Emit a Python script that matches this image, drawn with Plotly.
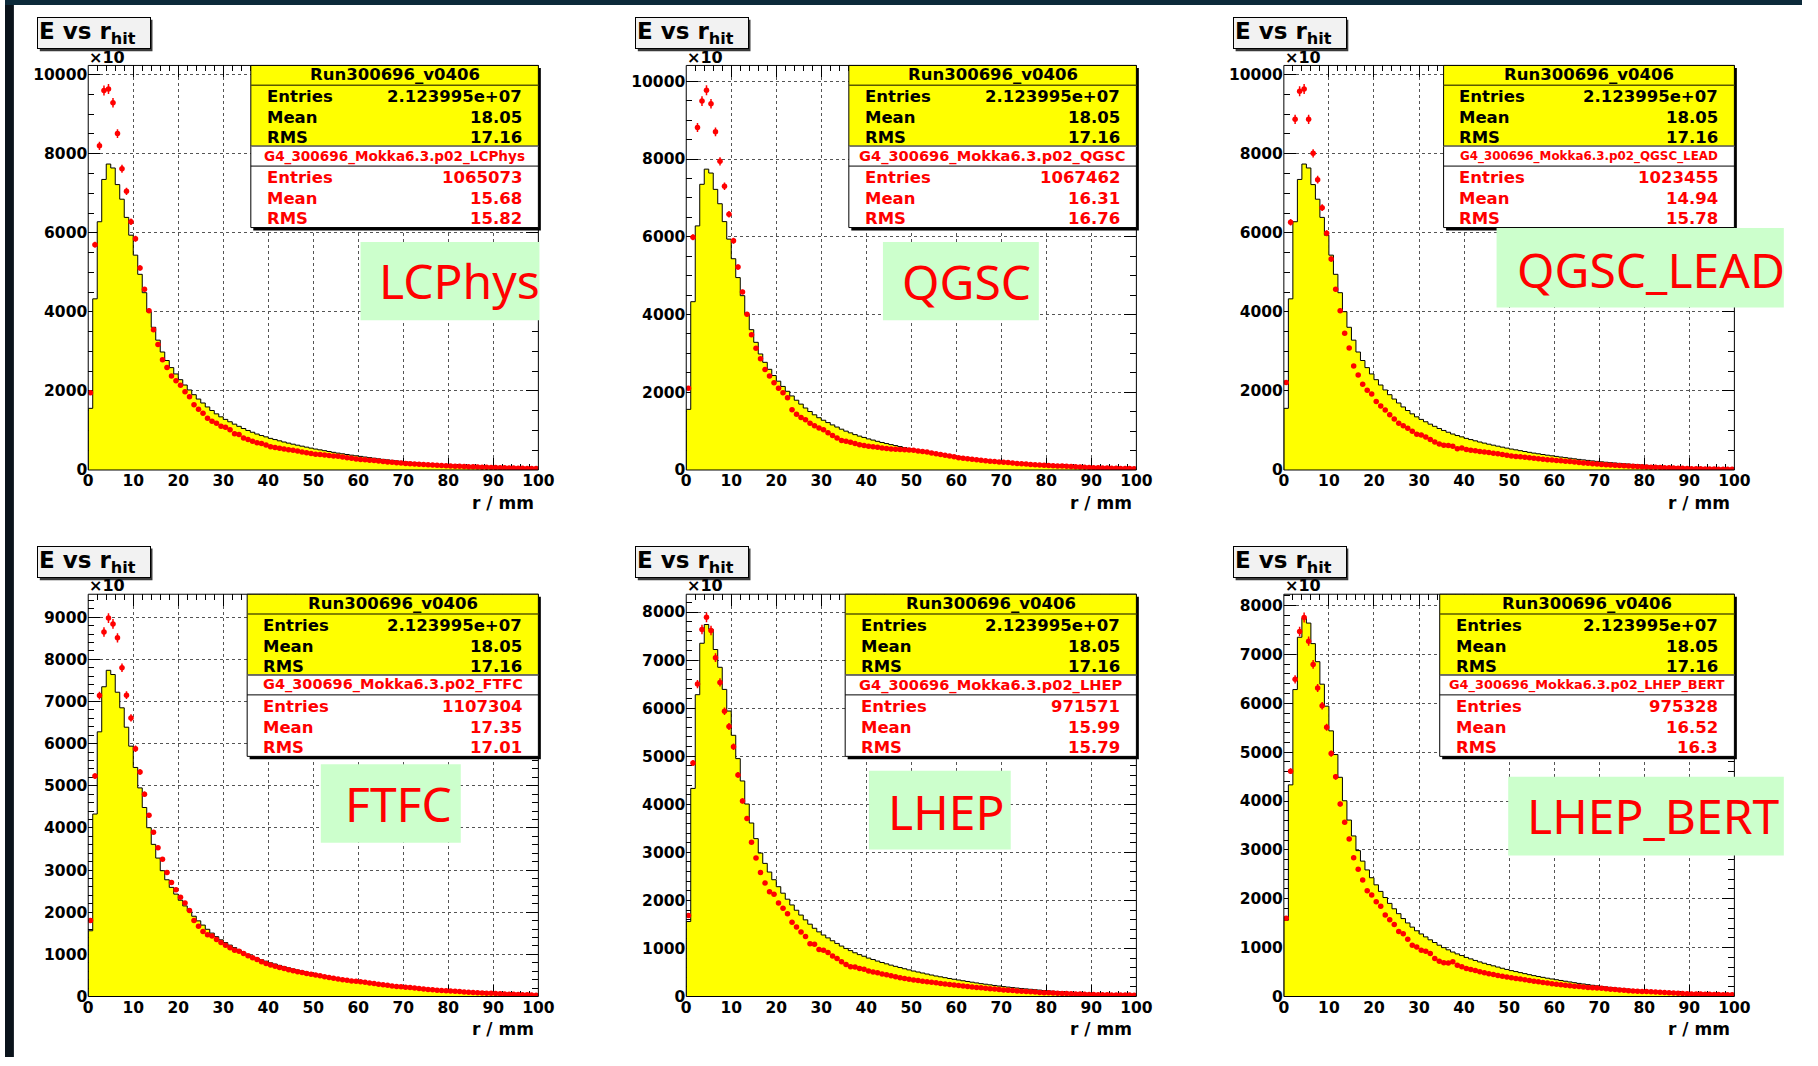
import plotly.graph_objects as go

W, H = 1818, 1066

# ---------------- data (values in units of x10) ----------------
r_edges = list(range(0, 101))          # bin edges, r / mm
r_centers = [i + 0.5 for i in range(100)]

data_hist = [
    1560, 4330, 6280, 7350, 7740, 7640, 7220, 6850, 6390, 5940,
    5435, 4950, 4485, 4005, 3610, 3285, 2985, 2770, 2590, 2430,
    2285, 2150, 2025, 1905, 1795, 1695, 1595, 1505, 1420, 1345,
    1280, 1220, 1160, 1105, 1050, 1000, 955, 910, 872, 838,
    800, 770, 738, 708, 680, 653, 628, 603, 578, 554,
    530, 510, 489, 468, 447, 427, 410, 392, 375, 359,
    344, 328, 313, 298, 283, 268, 256, 243, 230, 218,
    206, 196, 186, 176, 167, 158, 150, 141, 133, 125,
    117, 110, 103, 96, 90, 83, 78, 72, 66, 61,
    55, 51, 47, 43, 38, 34, 31, 28, 24, 21]

sim_lcphys = [
    1955, 5700, 8200, 9600, 9640, 9290, 8510, 7620, 7050, 6280,
    5850, 5110, 4570, 4030, 3550, 3175, 2790, 2590, 2375, 2255,
    2145, 1980, 1855, 1650, 1535, 1435, 1310, 1230, 1185, 1105,
    1080, 1020, 920, 895, 810, 770, 728, 688, 668, 635,
    585, 568, 548, 530, 515, 500, 478, 455, 435, 418,
    400, 392, 380, 365, 355, 345, 328, 310, 295, 280,
    268, 258, 248, 238, 226, 215, 205, 195, 185, 175,
    165, 158, 150, 143, 136, 130, 124, 117, 111, 105,
    100, 96, 92, 88, 84, 80, 76, 72, 68, 64,
    60, 57, 54, 51, 48, 45, 42, 40, 37, 35]

sim_qgsc = [
    2100, 5990, 8810, 9490, 9770, 9420, 8700, 7940, 7300, 6580,
    5900, 5220, 4580, 4010, 3480, 3135, 2860, 2585, 2420, 2245,
    2100, 1990, 1860, 1550, 1435, 1350, 1290, 1205, 1140, 1080,
    1035, 955, 885, 825, 760, 740, 715, 680, 648, 630,
    612, 598, 582, 566, 555, 543, 534, 525, 518, 512,
    505, 490, 475, 460, 440, 420, 400, 380, 360, 340,
    318, 303, 290, 276, 262, 250, 240, 228, 216, 208,
    200, 190, 180, 170, 160, 152, 144, 136, 128, 122,
    118, 112, 106, 100, 94, 88, 82, 76, 70, 65,
    60, 56, 52, 49, 46, 43, 40, 38, 36, 34]

sim_qgsc_lead = [
    2215, 6265, 8870, 9580, 9640, 8870, 8010, 7345, 6635, 5990,
    5340, 4570, 4030, 3460, 3085, 2630, 2400, 2170, 2020, 1920,
    1730, 1620, 1520, 1395, 1290, 1185, 1120, 1055, 978, 902,
    885, 835, 770, 710, 660, 628, 618, 602, 540, 558,
    520, 502, 484, 470, 455, 440, 425, 410, 390, 370,
    352, 342, 332, 320, 308, 298, 285, 272, 260, 250,
    242, 232, 222, 212, 200, 190, 180, 170, 160, 150,
    142, 135, 128, 121, 114, 108, 100, 94, 88, 81,
    75, 71, 67, 63, 59, 55, 51, 47, 43, 38,
    34, 32, 30, 28, 26, 24, 22, 20, 18, 17]

sim_ftfc = [
    1805, 5230, 7140, 8650, 8980, 8840, 8510, 7800, 7150, 6610,
    5880, 5330, 4800, 4300, 3900, 3530, 3255, 2940, 2705, 2535,
    2355, 2220, 2040, 1805, 1670, 1545, 1465, 1435, 1355, 1280,
    1215, 1155, 1100, 1075, 1020, 965, 918, 878, 825, 785,
    745, 720, 690, 665, 635, 610, 590, 568, 548, 530,
    512, 490, 470, 450, 432, 416, 400, 385, 370, 360,
    352, 338, 322, 306, 292, 278, 265, 252, 240, 230,
    222, 212, 200, 188, 176, 166, 158, 150, 142, 136,
    133, 125, 118, 110, 104, 98, 92, 86, 80, 75,
    71, 66, 60, 56, 52, 48, 43, 39, 35, 31]

sim_lhep = [
    1685, 4860, 6500, 7635, 7890, 7615, 7050, 6535, 5935, 5620,
    5195, 4610, 4070, 3705, 3210, 2880, 2580, 2360, 2180, 2130,
    1945, 1835, 1720, 1545, 1445, 1340, 1250, 1100, 1085, 978,
    962, 915, 845, 790, 722, 668, 620, 612, 585, 565,
    530, 512, 492, 470, 452, 432, 412, 392, 375, 360,
    345, 332, 320, 308, 296, 284, 272, 260, 248, 238,
    228, 218, 208, 198, 188, 180, 170, 162, 154, 146,
    138, 130, 124, 117, 110, 104, 98, 92, 86, 80,
    76, 72, 68, 64, 61, 57, 54, 50, 47, 44,
    41, 39, 37, 36, 34, 33, 32, 30, 29, 28]

sim_lhep_bert = [
    1600, 4610, 6490, 7470, 7755, 7270, 6795, 6310, 5950, 5510,
    4970, 4495, 3940, 3565, 3225, 2840, 2605, 2385, 2165, 2075,
    1940, 1845, 1670, 1570, 1475, 1330, 1285, 1170, 1050, 1015,
    948, 925, 880, 780, 722, 690, 688, 710, 642, 610,
    575, 552, 530, 508, 488, 468, 448, 430, 415, 400,
    385, 370, 356, 342, 328, 314, 300, 287, 275, 262,
    250, 240, 230, 222, 212, 204, 195, 186, 178, 172,
    168, 160, 150, 142, 134, 127, 120, 114, 108, 104,
    101, 96, 91, 86, 81, 77, 72, 67, 62, 58,
    54, 52, 49, 47, 44, 42, 40, 38, 36, 34]

models = ["LCPhys", "QGSC", "QGSC_LEAD", "FTFC", "LHEP", "LHEP_BERT"]
sim_series = [sim_lcphys, sim_qgsc, sim_qgsc_lead, sim_ftfc, sim_lhep, sim_lhep_bert]
sim_entries = ["1065073", "1067462", "1023455", "1107304", "971571", "975328"]
sim_mean = ["15.68", "16.31", "14.94", "17.35", "15.99", "16.52"]
sim_rms = ["15.82", "16.76", "15.78", "17.01", "15.79", "16.3"]
data_name = "Run300696_v0406"
data_entries = "2.123995e+07"
data_mean = "18.05"
data_rms = "17.16"
x_ticks = list(range(0, 101, 10))

# ---------------- layout (pixels of the 1818x1066 page) ----------------
def X(px):
    return px / W

def Y(py):
    return 1 - py / H

panels = [
    dict(L=84.2, R=539.6, T=66.0, B=474.0, ymax=10234, dt=2000, mdt=500, sL=248.7,
         g=(359.7, 244, 540.7, 323), gy=283, name_size=13.6, tb=32.7),
    dict(L=689.2, R=1144.6, T=66.0, B=474.0, ymax=10408, dt=2000, mdt=500, sL=853.7,
         g=(888.2, 244, 1045.9, 323), gy=284, name_size=14.6, tb=637.7),
    dict(L=1293.8, R=1749.6, T=66.0, B=474.0, ymax=10234, dt=2000, mdt=500, sL=1455.4,
         g=(1509, 230, 1799.6, 310), gy=272, name_size=11.9, tb=1242.5),
    dict(L=84.2, R=539.6, T=599.3, B=1005.0, ymax=9545, dt=1000, mdt=200, sL=245.0,
         g=(319.5, 770.7, 461.1, 850), gy=810, name_size=14.5, tb=32.7),
    dict(L=689.2, R=1144.6, T=599.3, B=1005.0, ymax=8370, dt=1000, mdt=200, sL=850.0,
         g=(874, 777.3, 1017.5, 856.7), gy=818, name_size=14.6, tb=637.7),
    dict(L=1293.8, R=1749.6, T=599.3, B=1005.0, ymax=8230, dt=1000, mdt=200, sL=1451.5,
         g=(1520.8, 783.3, 1799.6, 862.7), gy=822, name_size=12.9, tb=1242.5),
]

FONT = "DejaVu Sans"
fig = go.Figure()
shapes = []
annotations = []

def rect(x0, y0, x1, y1, fill, line="black", lw=1):
    shapes.append(dict(type="rect", xref="paper", yref="paper",
                       x0=X(x0), x1=X(x1), y0=Y(y1), y1=Y(y0),
                       fillcolor=fill, line=dict(color=line, width=lw), layer="above"))

def hline(x0, x1, y, color="black", lw=1):
    shapes.append(dict(type="line", xref="paper", yref="paper",
                       x0=X(x0), x1=X(x1), y0=Y(y), y1=Y(y),
                       line=dict(color=color, width=lw), layer="above"))

def text(px, py, s, size, color="black", xanchor="center", family=FONT, bold=True):
    annotations.append(dict(xref="paper", yref="paper", x=X(px), y=Y(py), text=s,
                            showarrow=False, xanchor=xanchor, yanchor="middle",
                            font=dict(family=family, size=size, color=color,
                                      weight="bold" if bold else "normal")))

for i, p in enumerate(panels):
    k = i + 1
    xa = "x" if k == 1 else f"x{k}"
    ya = "y" if k == 1 else f"y{k}"

    # yellow data histogram (step outline, filled)
    hx = [r_edges[0]] + r_edges + [r_edges[-1]]
    hy = [0] + data_hist + [data_hist[-1], 0]
    fig.add_trace(go.Scatter(x=hx, y=hy, mode="lines", line=dict(color="black", width=1, shape="hv"),
                             fill="tozeroy", fillcolor="#ffff00", xaxis=xa, yaxis=ya,
                             hoverinfo="skip", showlegend=False))
    # red simulation points
    fig.add_trace(go.Scatter(x=r_centers, y=sim_series[i], mode="markers",
                             marker=dict(color="#ff0000", size=5.5),
                             error_y=dict(type="percent", value=1.3, color="#ff0000", thickness=1.5, width=0),
                             error_x=dict(type="constant", value=0.5, color="#ff0000", thickness=1.5, width=0),
                             xaxis=xa, yaxis=ya, showlegend=False))

    axis_common = dict(showline=False, zeroline=False, ticks="inside", mirror="ticks",
                       tickcolor="black", tickwidth=1, showgrid=True, gridcolor="#555555",
                       griddash="dot", gridwidth=1, layer="below traces",
                       tickfont=dict(family=FONT, size=15.5, color="black", weight="bold"))
    fig.layout[f"xaxis{k}" if k > 1 else "xaxis"] = dict(
        domain=[X(p["L"]), X(p["R"])], anchor=ya, range=[0, 100],
        tickmode="array", tickvals=x_ticks, ticklen=12,
        minor=dict(dtick=2, ticks="inside", ticklen=6, tickcolor="black", showgrid=False),
        **axis_common)
    fig.layout[f"yaxis{k}" if k > 1 else "yaxis"] = dict(
        domain=[Y(p["B"]), Y(p["T"])], anchor=xa, range=[0, p["ymax"]],
        dtick=p["dt"], tick0=0, ticklen=12, tickformat="d",
        minor=dict(dtick=p["mdt"], ticks="inside", ticklen=6, tickcolor="black", showgrid=False),
        **axis_common)

    # frame
    rect(p["L"], p["T"], p["R"], p["B"], "rgba(0,0,0,0)", "black", 1)

    # axis title and exponent
    text(p["R"] - 2.5, p["B"] + 33, "r / mm", 17, xanchor="right")
    text(p["L"] - 1, p["T"] - 8.5, "×10", 16, xanchor="left")

    # histogram title box (with drop shadow)
    tT = p["T"] - 48.7
    tL = p["tb"]
    tR = tL + 114
    tB = tT + 32
    rect(tL + 2.5, tT + 2.5, tR + 2.5, tB + 2.5, "#3a3a3a", "#3a3a3a", 0)
    annotations.append(dict(xref="paper", yref="paper", x=X(tL), y=Y(tT), xanchor="left", yanchor="top",
                            text="E vs r<sub>hit</sub>", showarrow=False, align="left", valign="middle",
                            width=110, height=28, bgcolor="#f2f2f2", bordercolor="black",
                            borderwidth=1, borderpad=1,
                            font=dict(family=FONT, size=23, color="black", weight="bold")))

    # statistics boxes
    sL, sR, sT = p["sL"], p["R"], p["T"]
    rect(sL + 2.5, sT + 2.5, sR + 2.5, sT + 164 + 2.5, "black", "black", 0)
    rect(sL, sT, sR, sT + 81.5, "#ffff00", "black", 1)
    rect(sL, sT + 81.5, sR, sT + 163.5, "white", "black", 1)
    hline(sL, sR, sT + 20, "#5a5a00", 1.5)
    hline(sL, sR, sT + 81.5, "#777777", 1.5)
    hline(sL, sR, sT + 101.5, "black", 1)
    text((sL + sR) / 2, sT + 9.5, data_name, 16.5)
    rows = [("Entries", data_entries, 31.5), ("Mean", data_mean, 52.5), ("RMS", data_rms, 72.5)]
    for lab, val, off in rows:
        text(sL + 14, sT + off, lab, 16.5, xanchor="left")
        text(sR - 15, sT + off, val, 16.5, xanchor="right")
    text((sL + sR) / 2, sT + 91.5, "G4_300696_Mokka6.3.p02_" + models[i], p["name_size"], color="#ff0000")
    rows = [("Entries", sim_entries[i], 113.5), ("Mean", sim_mean[i], 134.5), ("RMS", sim_rms[i], 154.5)]
    for lab, val, off in rows:
        text(sL + 14, sT + off, lab, 16.5, color="#ff0000", xanchor="left")
        text(sR - 15, sT + off, val, 16.5, color="#ff0000", xanchor="right")

    # green model label
    gx0, gy0, gx1, gy1 = p["g"]
    rect(gx0, gy0, gx1, gy1, "#ccffcc", "#ccffcc", 0)
    gcx = {0: 460.2, 1: 973.2, 2: 1665.6, 3: 397.6, 4: 951.7, 5: 1667.5}[i]
    text(gcx, p["gy"], models[i], 48, color="#ff0000", family="Noto Sans", bold=False)

# dark slide edges
shapes.append(dict(type="rect", xref="paper", yref="paper", x0=0, x1=X(9), y0=0, y1=1,
                   fillcolor="#0a131b", line=dict(width=0), layer="above"))
shapes.append(dict(type="rect", xref="paper", yref="paper", x0=0, x1=1, y0=Y(5), y1=1,
                   fillcolor="#0c2a3a", line=dict(width=0), layer="above"))

fig.update_layout(width=W, height=H, margin=dict(l=0, r=0, t=0, b=0),
                  paper_bgcolor="white", plot_bgcolor="white", showlegend=False,
                  shapes=shapes, annotations=annotations)

fig.write_html(
    "out.html",
    config={"displayModeBar": False},
    post_script=(
        "document.documentElement.style.margin='0';"
        "document.documentElement.style.overflow='hidden';"
        "document.body.style.margin='0';"
        "document.body.style.overflow='hidden';"
        "var gd=document.getElementById('{plot_id}');"
        "gd.style.position='fixed';gd.style.left='0px';gd.style.top='0px';"
    ),
)
